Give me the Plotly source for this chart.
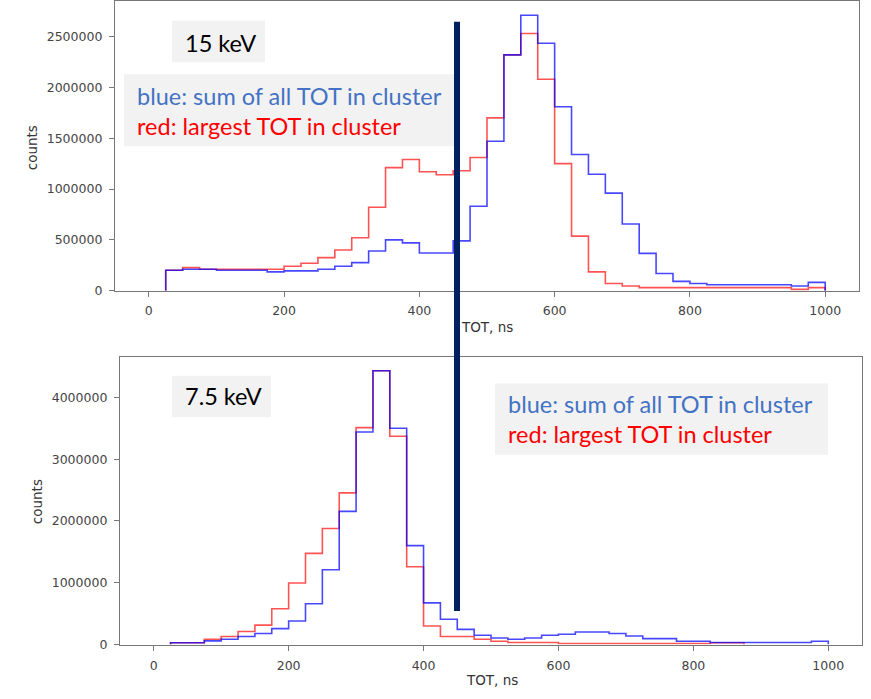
import numpy as np
import plotly.graph_objects as go

# TOT histogram bins: 25 ns wide, 0..1000 ns
bin_edges = np.arange(0, 1001, 25)

# 15 keV counts per bin (millions)
sum_tot_15 = [0.0, 0.20, 0.21, 0.21, 0.20, 0.20, 0.20, 0.185, 0.195, 0.195,
              0.21, 0.24, 0.276, 0.39, 0.50, 0.47, 0.37, 0.37, 0.49, 0.83,
              1.47, 2.32, 2.71, 2.435, 1.81, 1.34, 1.146, 0.96, 0.656, 0.367,
              0.169, 0.091, 0.071, 0.058, 0.058, 0.058, 0.058, 0.058, 0.045, 0.081]
max_tot_15 = [0.0, 0.20, 0.227, 0.21, 0.21, 0.21, 0.21, 0.21, 0.24, 0.27,
              0.325, 0.40, 0.52, 0.82, 1.21, 1.29, 1.17, 1.14, 1.18, 1.31,
              1.70, 2.32, 2.53, 2.08, 1.25, 0.536, 0.185, 0.071, 0.045, 0.03,
              0.03, 0.03, 0.03, 0.03, 0.03, 0.03, 0.03, 0.03, 0.013, 0.03]

# 7.5 keV counts per bin (millions)
sum_tot_75 = [0.0, 0.03, 0.03, 0.06, 0.085, 0.13, 0.18, 0.257, 0.38, 0.66,
              1.21, 2.155, 3.44, 4.43, 3.50, 1.60, 0.674, 0.41, 0.246, 0.15,
              0.107, 0.086, 0.107, 0.15, 0.166, 0.203, 0.203, 0.18, 0.139, 0.096,
              0.096, 0.053, 0.053, 0.032, 0.032, 0.032, 0.032, 0.032, 0.032, 0.053]
max_tot_75 = [0.0, 0.03, 0.03, 0.085, 0.13, 0.21, 0.315, 0.58, 0.995, 1.476,
              1.877, 2.455, 3.51, 4.43, 3.37, 1.26, 0.30, 0.13, 0.13, 0.086,
              0.053, 0.032, 0.032, 0.032, 0.016, 0.016, 0.016, 0.016, 0.016, 0.016,
              0.016, 0.016, 0.016, 0.03, 0.03, 0.0, 0.0, 0.0, 0.0, 0.0]

x_ticks = [0, 200, 400, 600, 800, 1000]
y_ticks_15 = [0, 500000, 1000000, 1500000, 2000000, 2500000]
y_ticks_75 = [0, 1000000, 2000000, 3000000, 4000000]

W, H = 871, 699
BLUE = "rgba(0,0,255,0.72)"
RED = "rgba(255,0,0,0.68)"


def step_xy(counts):
    """Outline of a step histogram; empty bins at either end lie on the axis and are skipped."""
    c = np.asarray(counts) * 1e6
    nz = np.nonzero(c)[0]
    lo, hi = nz[0], nz[-1] + 1
    edges = bin_edges[lo:hi + 1]
    c = c[lo:hi]
    xs = np.concatenate([[edges[0]], edges, [edges[-1]]])
    ys = np.concatenate([[0], c, [c[-1], 0]])
    return xs, ys


def px(x):
    return x / W


def py(y):
    return 1 - y / H


fig = go.Figure()
for counts, color, xa, ya in [
    (max_tot_15, RED, "x", "y"),
    (sum_tot_15, BLUE, "x", "y"),
    (max_tot_75, RED, "x2", "y2"),
    (sum_tot_75, BLUE, "x2", "y2"),
]:
    xs, ys = step_xy(counts)
    fig.add_trace(go.Scatter(x=xs, y=ys, mode="lines", line=dict(color=color, width=1.6, shape="hv"),
                             xaxis=xa, yaxis=ya, showlegend=False, hoverinfo="skip"))

tick_font = dict(family="DejaVu Sans", size=12.5, color="#444")
axis_common = dict(showline=True, linecolor="#777", linewidth=1.2, mirror=True, ticks="outside",
                   ticklen=5, tickcolor="#777", showgrid=False, zeroline=False, tickfont=tick_font,
                   layer="above traces")

fig.update_layout(
    width=W, height=H, margin=dict(l=0, r=0, t=0, b=0),
    paper_bgcolor="white", plot_bgcolor="white",
    xaxis=dict(domain=[px(115), px(859)], range=[-50, 1050], tickvals=x_ticks, anchor="y",
               ticklabelstandoff=3, **axis_common),
    yaxis=dict(domain=[py(293), py(0)], range=[0, 2.85e6], tickvals=y_ticks_15, tickformat="d",
               anchor="x", ticklabelstandoff=4, **axis_common),
    xaxis2=dict(domain=[px(120), px(862)], range=[-50, 1050], tickvals=x_ticks, anchor="y2",
                ticklabelstandoff=4, **axis_common),
    yaxis2=dict(domain=[py(651), py(360)], range=[0, 4.655e6], tickvals=y_ticks_75, tickformat="d",
                anchor="x2", ticklabelstandoff=4, **axis_common),
)

label_font = dict(family="DejaVu Sans", size=13.5, color="#333")
slide_font = "Lato"
SLIDE = 23.5

shapes = [
    # grey label boxes
    dict(type="rect", xref="paper", yref="paper", x0=px(172), x1=px(265), y0=py(62), y1=py(20),
         fillcolor="#f2f2f2", line=dict(width=0), layer="above"),
    dict(type="rect", xref="paper", yref="paper", x0=px(124), x1=px(454), y0=py(147), y1=py(74),
         fillcolor="#f2f2f2", line=dict(width=0), layer="above"),
    dict(type="rect", xref="paper", yref="paper", x0=px(172), x1=px(271), y0=py(421), y1=py(379),
         fillcolor="#f2f2f2", line=dict(width=0), layer="above"),
    dict(type="rect", xref="paper", yref="paper", x0=px(495), x1=px(828), y0=py(459), y1=py(387),
         fillcolor="#f2f2f2", line=dict(width=0), layer="above"),
    # vertical marker line across both panels
    dict(type="line", xref="paper", yref="paper", x0=px(457), x1=px(457), y0=py(617), y1=py(21),
         line=dict(color="#002060", width=6), layer="above"),
]

annotations = [
    dict(text="counts", x=px(32), y=py(149), textangle=-90, font=label_font),
    dict(text="counts", x=px(37), y=py(507), textangle=-90, font=label_font),
    dict(text="TOT, ns", x=px(487), y=py(330), font=label_font),
    dict(text="TOT, ns", x=px(492), y=py(687), font=label_font),
    dict(text="15 keV", x=px(183), y=py(42), xanchor="left",
         font=dict(family=slide_font, size=SLIDE, color="black")),
    dict(text="7.5 keV", x=px(183), y=py(400), xanchor="left",
         font=dict(family=slide_font, size=SLIDE, color="black")),
    dict(text="blue: sum of all TOT in cluster", x=px(135), y=py(96), xanchor="left",
         font=dict(family=slide_font, size=SLIDE, color="#4472c4")),
    dict(text="red: largest TOT in cluster", x=px(135), y=py(126), xanchor="left",
         font=dict(family=slide_font, size=SLIDE, color="#ff0000")),
    dict(text="blue: sum of all TOT in cluster", x=px(506), y=py(408), xanchor="left",
         font=dict(family=slide_font, size=SLIDE, color="#4472c4")),
    dict(text="red: largest TOT in cluster", x=px(506), y=py(438), xanchor="left",
         font=dict(family=slide_font, size=SLIDE, color="#ff0000")),
]
for a in annotations:
    a.setdefault("xanchor", "center")
    a.update(xref="paper", yref="paper", yanchor="middle", showarrow=False)

fig.update_layout(shapes=shapes, annotations=annotations)
fig.write_html("out.html")
